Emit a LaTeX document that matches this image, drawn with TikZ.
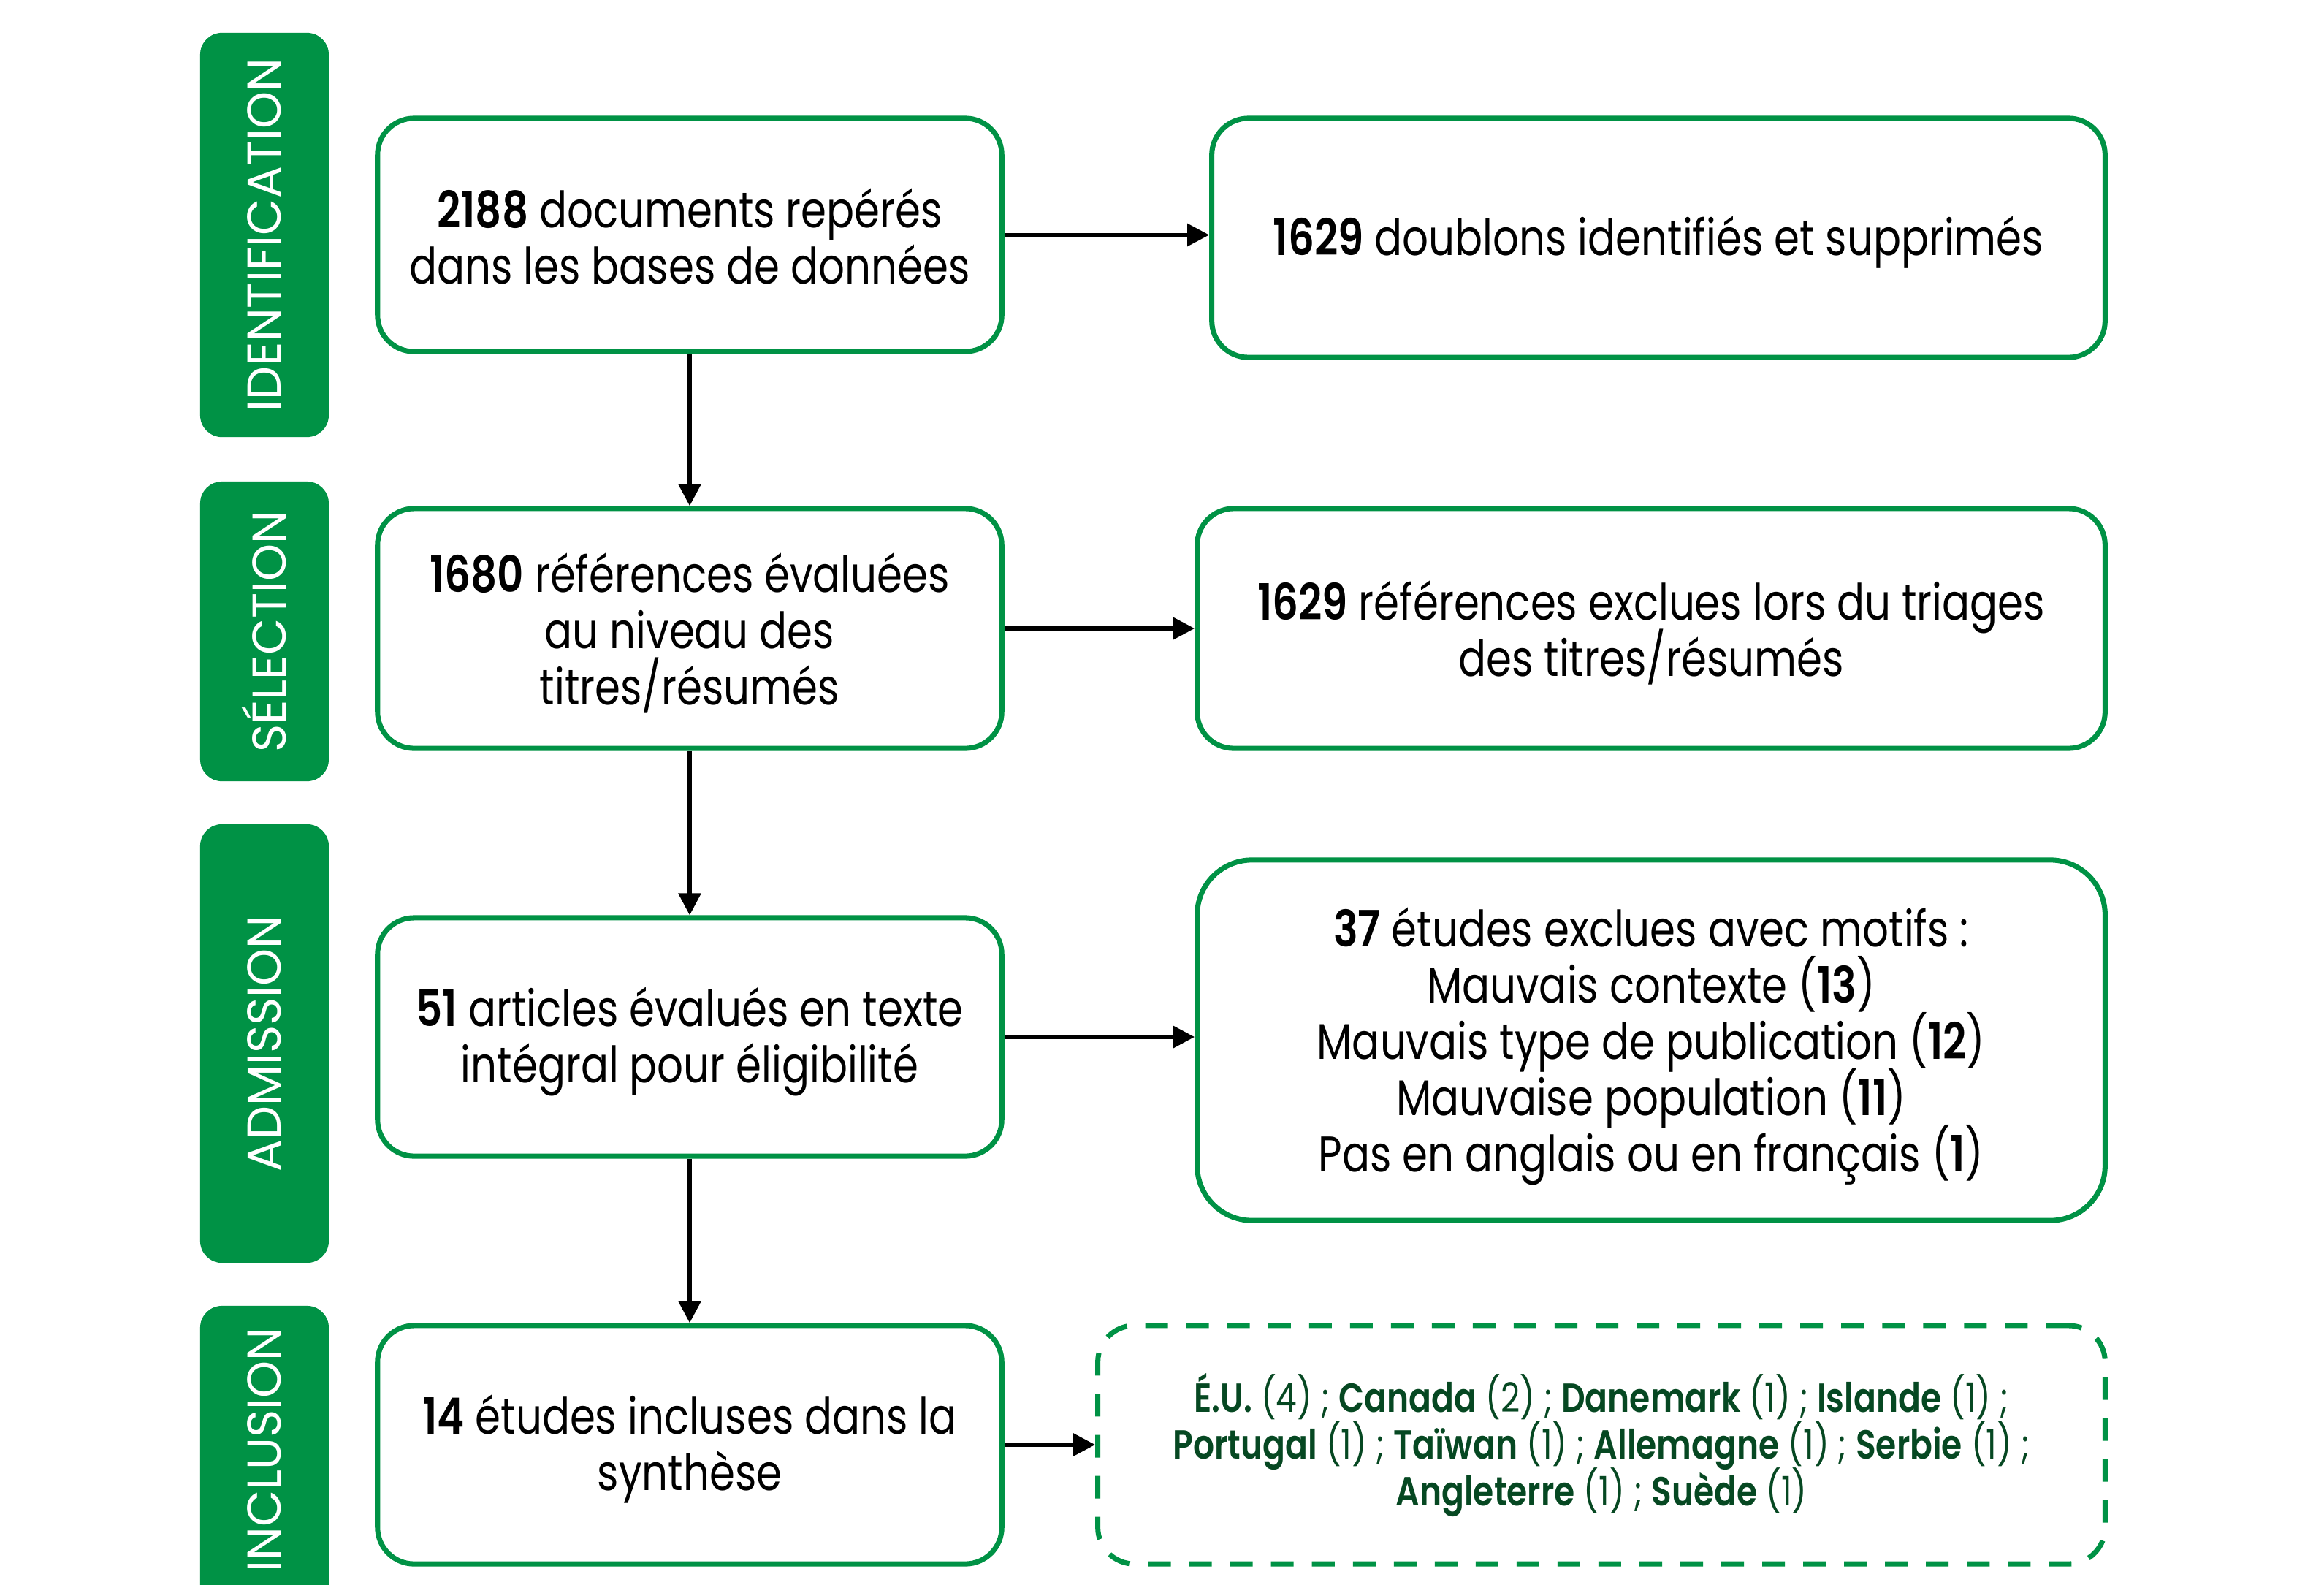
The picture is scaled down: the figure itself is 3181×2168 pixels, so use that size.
\documentclass[tikz,border=0pt]{standalone}
\usepackage{fontspec}
\setmainfont{Poppins}[FakeStretch=0.82, BoldFont={* SemiBold}]
\newfontfamily\tabfont{Poppins}
\usetikzlibrary{arrows.meta}
\definecolor{pgreen}{RGB}{0,146,69}
\definecolor{dgreen}{RGB}{6,72,34}
\newcommand\mytightlines{\lineskiplimit=-50pt\relax\lineskip=0pt\relax}
\tikzset{
  tab/.style={fill=pgreen, draw=none, rounded corners=0.3cm, inner sep=0pt},
  tabtext/.style={text=white, font=\tabfont\fontsize{18.5}{22}\selectfont, inner sep=0pt},
  flowbox/.style={draw=pgreen, line width=2pt, fill=white, rounded corners=0.5cm, inner sep=0pt},
  boxtext/.style={align=center, inner sep=0pt, yshift=-0.06cm,
    font=\fontsize{19.5}{21.9}\selectfont\mytightlines},
  dashbox/.style={draw=pgreen, line width=2pt, dash pattern=on 0.31cm off 0.25cm, rounded corners=0.5cm,
    align=center, text=dgreen, font=\fontsize{15.8}{18.2}\selectfont\mytightlines, inner sep=0pt},
  arr/.style={line width=1.7pt, -{Triangle[length=0.3cm,width=0.3cm]}}
}
\begin{document}
\begin{tikzpicture}[x=0.01cm,y=-0.01cm]
\useasboundingbox (0,0) rectangle (3181,2168);
\clip (0,0) rectangle (3181,2168);
\fill[white] (0,0) rectangle (3181,2168);

% phase tabs
\node[tab, rotate=90, minimum width=5.53cm, minimum height=1.76cm] (t1) at (362,321.5) {};
\node[tabtext, rotate=90] (t1l) at (t1.center) {IDENTIFICATION};
\node[tab, rotate=90, minimum width=4.10cm, minimum height=1.76cm] (t2) at (362,864) {};
\node[tabtext, rotate=90] (t2l) at (t2.center) {SÉLECTION};
\node[tab, rotate=90, minimum width=6.00cm, minimum height=1.76cm] (t3) at (362,1428) {};
\node[tabtext, rotate=90] (t3l) at (t3.center) {ADMISSION};
\node[tab, rotate=90, minimum width=4.63cm, minimum height=1.76cm] (t4) at (362,2018.5) {};
\node[tabtext, rotate=90] (t4l) at (362,1984) {INCLUSION};

% left column
\node[flowbox, minimum width=8.54cm, minimum height=3.19cm] (b1) at (944,321.5) {};
\node[boxtext, yshift=0.04cm] (b1t) at (b1.center) {{\bfseries 2188} documents repérés\\dans les bases de données};
\node[flowbox, minimum width=8.54cm, minimum height=3.28cm] (b2) at (944,860) {};
\node[boxtext] (b2t) at (b2.center) {{\bfseries 1680} références évaluées\\au niveau des\\titres/résumés};
\node[flowbox, minimum width=8.54cm, minimum height=3.26cm] (b3) at (944,1419) {};
\node[boxtext] (b3t) at (b3.center) {{\bfseries 51} articles évalués en texte\\intégral pour éligibilité};
\node[flowbox, minimum width=8.54cm, minimum height=3.26cm] (b4) at (944,1977) {};
\node[boxtext] (b4t) at (b4.center) {{\bfseries 14} études incluses dans la\\synthèse};

% right column
\node[flowbox, minimum width=12.22cm, minimum height=3.27cm] (r1) at (2270,325.5) {};
\node[boxtext] (r1t) at (r1.center) {{\bfseries 1629} doublons identifiés et supprimés};
\node[flowbox, minimum width=12.42cm, minimum height=3.28cm] (r2) at (2260,860) {};
\node[boxtext] (r2t) at (r2.center) {{\bfseries 1629} références exclues lors du triages\\des titres/résumés};
\node[flowbox, rounded corners=0.75cm, minimum width=12.42cm, minimum height=4.93cm] (r3) at (2260,1423.5) {};
\node[boxtext, yshift=-0.02cm] (r3t) at (r3.center)
  {{\bfseries 37} études exclues avec motifs :\\
   Mauvais contexte ({\bfseries 13})\\
   Mauvais type de publication ({\bfseries 12})\\
   Mauvaise population ({\bfseries 11})\\
   Pas en anglais ou en français ({\bfseries 1})};
\node[dashbox, minimum width=13.78cm, minimum height=3.26cm] (r4) at (2192,1977)
  {{\bfseries É.U.} (4) ; {\bfseries Canada} (2) ; {\bfseries Danemark} (1) ; {\bfseries Islande} (1) ;\\
   {\bfseries Portugal} (1) ; {\bfseries Taïwan} (1) ; {\bfseries Allemagne} (1) ; {\bfseries Serbie} (1) ;\\
   {\bfseries Angleterre} (1) ; {\bfseries Suède} (1)};

% connectors
\draw[arr] (b1.east) -- (b1.east -| r1.west);
\draw[arr] (b2.east) -- (b2.east -| r2.west);
\draw[arr] (b3.east) -- (b3.east -| r3.west);
\draw[arr] (b4.east) -- (b4.east -| r4.west);
\draw[arr] (b1.south) -- (b2.north);
\draw[arr] (b2.south) -- (b3.north);
\draw[arr] (b3.south) -- (b4.north);
\end{tikzpicture}
\end{document}
